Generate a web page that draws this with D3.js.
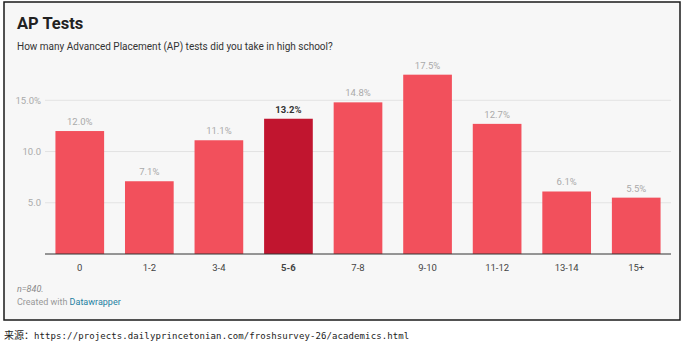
<!DOCTYPE html>
<html><head><meta charset="utf-8">
<script src="https://cdn.jsdelivr.net/npm/d3@7"></script>
<style>
body{margin:0;background:#fff;}
svg{display:block;}
</style></head>
<body>
<script>
const categories = ["0","1-2","3-4","5-6","7-8","9-10","11-12","13-14","15+"];
const values = [12.0, 7.1, 11.1, 13.2, 14.8, 17.5, 12.7, 6.1, 5.5];
const highlighted = ["5-6"];
const yTicks = [5, 10, 15];
const yTickLabels = ["5.0", "10.0", "15.0%"];

const W = 686, H = 344;
const svg = d3.select("body").append("svg").attr("width", W).attr("height", H);

// frame
svg.append("rect").attr("x", 4).attr("y", 2).attr("width", 676).attr("height", 318)
  .attr("fill", "#f7f7f7").attr("stroke", "#1a1a1a").attr("stroke-width", 1.5);

svg.append("text").attr("x", 17).attr("y", 29).text("AP Tests")
  .attr("font-family", "Roboto").attr("font-weight", "bold").attr("font-size", 16.5).attr("fill", "#222");
svg.append("text").attr("x", 17).attr("y", 50).text("How many Advanced Placement (AP) tests did you take in high school?")
  .attr("font-family", "Roboto").attr("font-size", 10).attr("fill", "#333");

const x = d3.scaleBand().domain(categories).range([45, 671]).paddingInner(0.3).paddingOuter(0.15);
const y = d3.scaleLinear().domain([0, 15]).range([254, 100.3]);

// gridlines
const grid = svg.append("g");
grid.selectAll("line").data(yTicks).join("line")
  .attr("x1", 45).attr("x2", 671).attr("y1", d => y(d)).attr("y2", d => y(d))
  .attr("stroke", "#e3e3e3").attr("stroke-width", 1);
grid.selectAll("text").data(yTicks).join("text")
  .attr("x", 41).attr("y", d => y(d) + 3.5).attr("text-anchor", "end")
  .text((d, i) => yTickLabels[i])
  .attr("font-family", "Roboto").attr("font-size", 9.5).attr("fill", "#aaa");

const data = categories.map((c, i) => ({c, v: values[i]}));
svg.append("g").selectAll("rect").data(data).join("rect")
  .attr("x", d => x(d.c)).attr("width", x.bandwidth())
  .attr("y", d => y(d.v)).attr("height", d => y(0) - y(d.v))
  .attr("fill", d => highlighted.includes(d.c) ? "#c1152f" : "#f2505c");

svg.append("g").selectAll("text").data(data).join("text")
  .attr("x", d => x(d.c) + x.bandwidth() / 2).attr("y", d => y(d.v) - 6)
  .attr("text-anchor", "middle").text(d => d.v.toFixed(1) + "%")
  .attr("font-family", "Roboto").attr("font-size", 9.5)
  .attr("font-weight", d => highlighted.includes(d.c) ? "bold" : "normal")
  .attr("fill", d => highlighted.includes(d.c) ? "#333" : "#aaa");

// baseline axis
svg.append("line").attr("x1", 45).attr("x2", 671).attr("y1", y(0)).attr("y2", y(0))
  .attr("stroke", "#333").attr("stroke-width", 1);

const xAxis = svg.append("g").attr("transform", `translate(0,${y(0)})`)
  .call(d3.axisBottom(x).tickSize(0).tickPadding(10));
xAxis.select(".domain").remove();
xAxis.selectAll("text").attr("font-family", "Roboto").attr("font-size", 9.5)
  .attr("fill", "#444")
  .attr("font-weight", d => highlighted.includes(d) ? "bold" : "normal");

svg.append("text").attr("x", 17).attr("y", 292).text("n=840.")
  .attr("font-family", "Roboto").attr("font-style", "italic").attr("font-size", 9).attr("fill", "#888");
const cr = svg.append("text").attr("x", 17).attr("y", 305)
  .attr("font-family", "Roboto").attr("font-size", 9);
cr.append("tspan").text("Created with ").attr("fill", "#999");
cr.append("tspan").text("Datawrapper").attr("fill", "#1d81a2");

const src = svg.append("text").attr("x", 4).attr("y", 339).attr("font-size", 10);
src.append("tspan").text("来源：").attr("font-family", "Noto Sans CJK SC").attr("fill", "#222");
src.append("tspan").text("https://projects.dailyprincetonian.com/froshsurvey-26/academics.html")
  .attr("font-family", "DejaVu Sans Mono").attr("font-size", 9).attr("letter-spacing", 0.1).attr("fill", "#222");
</script>
</body></html>
